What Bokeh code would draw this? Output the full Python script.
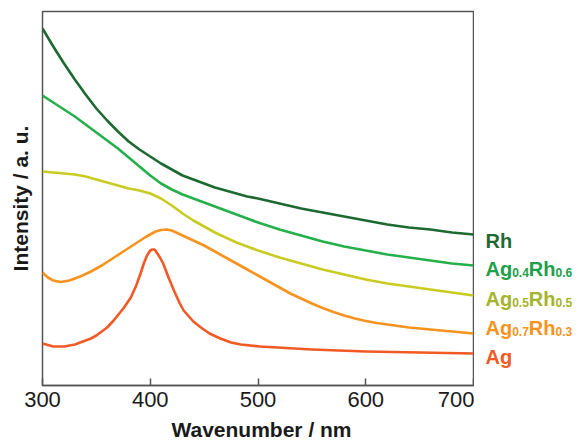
from bokeh.plotting import figure
from bokeh.layouts import row, column
from bokeh.models import FixedTicker, Range1d
from bokeh.core.properties import value
from bokeh.embed import file_html
from bokeh.resources import INLINE

# ---------------- data ----------------
rh_x = [300, 310, 320, 330, 340, 350, 360, 370, 380, 390, 400, 410, 420, 430, 440, 450, 460, 470,
        480, 490, 500, 520, 540, 560, 580, 600, 620, 640, 660, 680, 700]
rh_y = [357, 339, 322, 306, 291, 277, 265, 254, 244, 236, 229, 222, 216, 210, 206, 202, 198, 195,
        192, 189, 187, 182, 177, 173, 169, 165, 161, 158, 156, 153, 151]

ag04_x = [300, 310, 320, 330, 340, 350, 360, 370, 380, 390, 400, 410, 420, 430, 440, 450, 460, 470,
          480, 490, 500, 520, 540, 560, 580, 600, 620, 640, 660, 680, 700]
ag04_y = [290, 283, 276, 269, 261, 253, 245, 237, 228, 219, 210, 202, 196, 191, 187, 183, 179, 175,
          171, 167, 163, 156, 150, 144, 139, 135, 131, 128, 125, 122, 120]

ag05_x = [300, 310, 320, 330, 340, 350, 360, 370, 380, 390, 400, 410, 420, 430, 440, 450, 460, 470,
          480, 490, 500, 520, 540, 560, 580, 600, 620, 640, 660, 680, 700]
ag05_y = [214, 213, 212, 211, 209, 206, 203, 200, 197, 195, 192, 187, 180, 172, 165, 159, 153, 148,
          143, 139, 135, 128, 122, 116, 111, 106, 102, 99, 96, 93, 90]

ag07_x = [300, 305, 310, 317, 325, 335, 345, 355, 365, 375, 385, 395, 400, 405, 410, 415, 420, 430,
          440, 450, 460, 470, 480, 490, 500, 510, 520, 530, 540, 550, 560, 570, 580, 590, 600, 610,
          620, 640, 660, 680, 700]
ag07_y = [113, 108, 105, 103.5, 105, 109, 114, 120, 127, 134, 141, 148, 151, 154, 155.5, 156, 155, 150,
          145, 140, 134, 128, 122, 116, 110, 104, 98, 92, 87, 82, 77.5, 73.5, 70, 67, 64.5, 62.5,
          61, 58, 56, 54, 52]

ag_x = [300, 310, 320, 330, 340, 345, 350, 360, 366, 375, 382, 387, 391, 394, 397, 400, 402, 404,
        406, 409, 412, 417, 422, 427, 431, 440, 447, 455, 465, 475, 484, 502, 550, 600, 650, 700]
ag_y = [42, 39, 39, 41, 45, 47, 50, 58, 65, 77, 88, 100, 112, 122, 130, 135, 136, 136,
        133, 128, 122, 108, 95, 83, 75, 64, 58, 52, 47, 43, 41, 39, 36, 34, 33, 32]

x_ticks = [300, 400, 500, 600, 700]
x_label = "Wavenumber / nm"
y_label = "Intensity / a. u."

# series names as (text, is_subscript) parts
names = {
    "rh": [("Rh", False)],
    "ag04": [("Ag", False), ("0.4", True), ("Rh", False), ("0.6", True)],
    "ag05": [("Ag", False), ("0.5", True), ("Rh", False), ("0.5", True)],
    "ag07": [("Ag", False), ("0.7", True), ("Rh", False), ("0.3", True)],
    "ag": [("Ag", False)],
}

# ---------------- styles / layout ----------------
FONT = "Liberation Sans"
line_colors = {"rh": "#1c6a30", "ag04": "#26b04c", "ag05": "#c8cc22", "ag07": "#f7931e", "ag": "#f15a24"}
label_colors = {"rh": "#1f6a33", "ag04": "#20a048", "ag05": "#a4b42c", "ag07": "#f7941d", "ag": "#f15a24"}
label_base_y = {"rh": 145, "ag04": 117, "ag05": 87, "ag07": 58, "ag": 29}
SUB_DROP = 4
MAIN_PX, SUB_PX = 20, 12
H = 416
TOP, BOTTOM = 11, 31
LBL_H = 25

yr = Range1d(0, 374)
p = figure(width=474, height=H, output_backend="svg", toolbar_location=None,
           x_range=Range1d(300, 700), y_range=yr,
           min_border_left=42, min_border_right=1, min_border_top=TOP, min_border_bottom=BOTTOM)
p.background_fill_color = "white"
p.border_fill_color = "white"
p.grid.visible = False
p.outline_line_color = "#555555"
p.outline_line_width = 1.5

ax = p.xaxis[0]
ax.ticker = FixedTicker(ticks=x_ticks)
ax.minor_tick_line_color = None
ax.major_tick_in = 7
ax.major_tick_out = 0
ax.major_tick_line_color = "#555555"
ax.major_tick_line_width = 1.5
ax.axis_line_color = "#555555"
ax.axis_line_width = 1.5
ax.major_label_standoff = 6
ax.major_label_text_font = FONT
ax.major_label_text_font_size = "22px"
ax.major_label_text_color = "#1a1a1a"

ay = p.yaxis[0]
ay.ticker = FixedTicker(ticks=[])
ay.minor_tick_line_color = None
ay.major_tick_in = 0
ay.major_tick_out = 0
ay.major_label_standoff = 0
ay.axis_line_color = None
ay.axis_label = y_label
ay.axis_label_standoff = 11
ay.axis_label_text_font = FONT
ay.axis_label_text_font_size = "21px"
ay.axis_label_text_font_style = "bold"
ay.axis_label_text_color = "#1a1a1a"

series = [("rh", rh_x, rh_y), ("ag04", ag04_x, ag04_y), ("ag05", ag05_x, ag05_y),
          ("ag07", ag07_x, ag07_y), ("ag", ag_x, ag_y)]
for key, xs, ys in series:
    p.line(xs, ys, line_color=line_colors[key], line_width=2.6, line_join="round")

# side panel holding the series names (shares the intensity scale)
LW = 107
q = figure(width=LW, height=H, output_backend="svg", toolbar_location=None,
           x_range=Range1d(0, LW), y_range=yr, x_axis_type=None, y_axis_type=None,
           min_border_left=0, min_border_right=0, min_border_top=TOP, min_border_bottom=BOTTOM)
q.background_fill_color = "white"
q.border_fill_color = "white"
q.outline_line_color = None
q.grid.visible = False

# width estimates (Arial bold metrics) for placing subscripts
bold_w = {"A": 0.722, "g": 0.611, "R": 0.722, "h": 0.611, ".": 0.278}
def text_w(s, px):
    return sum(bold_w.get(c, 0.556) for c in s) * px

for key, parts in names.items():
    off = 11
    for txt, sub in parts:
        size = SUB_PX if sub else MAIN_PX
        yv = label_base_y[key] - (SUB_DROP if sub else 0)
        q.text(x=[0], y=[yv], text=[txt], x_offset=off,
               text_font=value(FONT), text_font_size=f"{size}px", text_font_style="bold",
               text_color=label_colors[key], text_baseline="alphabetic", text_align="left")
        off += text_w(txt, size)

# strip below holding the wavelength axis title
r = figure(width=474 + LW, height=LBL_H, output_backend="svg", toolbar_location=None,
           x_range=Range1d(0, 474 + LW), y_range=Range1d(0, LBL_H), x_axis_type=None, y_axis_type=None,
           min_border_left=0, min_border_right=0, min_border_top=0, min_border_bottom=0)
r.background_fill_color = "white"
r.border_fill_color = "white"
r.outline_line_color = None
r.grid.visible = False
r.text(x=[261], y=[12], text=[x_label], text_font=value(FONT), text_font_size="21px",
       text_font_style="bold", text_color="#1a1a1a", text_align="center", text_baseline="alphabetic")

layout = column(row(p, q, spacing=0), r, spacing=0)
open("out.html", "w").write(file_html(layout, INLINE))
